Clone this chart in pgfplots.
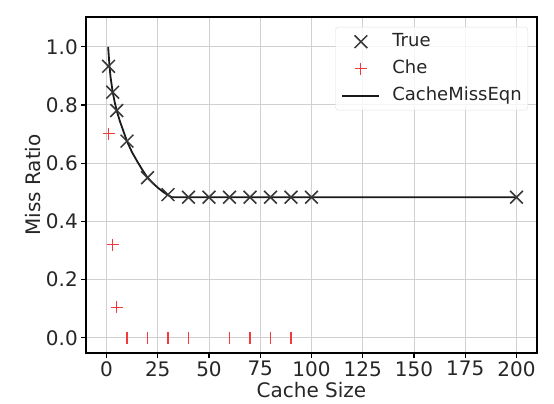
\documentclass[border=0pt]{standalone}
\usepackage{fontspec}
\setmainfont{DejaVu Sans}
\usepackage{pgfplots}
\pgfplotsset{compat=1.18}
\definecolor{gridgray}{HTML}{D0D0D0}
\definecolor{txt}{HTML}{262626}
\definecolor{mk}{HTML}{363636}
\definecolor{chered}{HTML}{F23A3A}
\pgfplotsset{
    marklegend/.style={legend image code/.code={
        \path[draw=none, fill=none] (0pt,-6pt) rectangle (37pt,6pt);
        \draw[##1] plot coordinates {(18.5pt,0pt)};}},
    linelegend/.style={legend image code/.code={
        \path[draw=none, fill=none] (0pt,-6pt) rectangle (37pt,6pt);
        \draw[##1, line width=1.8pt] (0pt,0pt) -- (37pt,0pt);}},
}

\begin{document}
\begin{tikzpicture}
\useasboundingbox (-86pt,-51pt) rectangle (468pt,353pt);
\begin{axis}[
    scale only axis,
    width=451pt, height=336pt,
    xmin=-10, xmax=210,
    ymin=-0.0525, ymax=1.1025,
    xtick={0,25,...,200},
    ytick={0,0.2,0.4,0.6,0.8,1.0},
    yticklabel style={/pgf/number format/.cd,fixed,fixed zerofill,precision=1},
    /pgf/number format/assume math mode=true,
    tick label style={font=\fontsize{20}{24}\selectfont, text=txt, inner sep=3.5pt},
    xlabel={Cache Size},
    ylabel={Miss Ratio},
    xlabel style={font=\fontsize{20}{24}\selectfont, text=txt,
        at={(axis description cs:0.5,-0.1339)}, anchor=base},
    ylabel style={font=\fontsize{20}{24}\selectfont, text=txt,
        at={(axis description cs:-0.0998,0.5)}, anchor=base},
    tick align=outside,
    xtick pos=bottom, ytick pos=left,
    major tick length=4.5pt,
    every tick/.style={black, line width=1.2pt},
    axis line style={black, line width=1.2pt},
    grid=major,
    major grid style={gridgray, line width=1pt},
    legend cell align=left,
    legend style={at={(1,1)}, anchor=north east, xshift=-9pt, yshift=-10pt,
        draw=gray!25, rounded corners=3pt, fill=white, fill opacity=0.8, text opacity=1,
        font=\fontsize{18}{22}\selectfont, text=txt, inner xsep=6pt, inner ysep=6pt,
        nodes={inner sep=0pt, text height=13pt, text depth=4pt},
        column sep=12pt, row sep=10pt},
]
\addplot[only marks, mark=x, mark size=9pt, mk, line width=1.5pt, marklegend]
coordinates {
    (1,0.933) (3,0.844) (5,0.781) (10,0.676) (20,0.550) (30,0.492)
    (40,0.483) (50,0.483) (60,0.483) (70,0.483) (80,0.483) (90,0.483)
    (100,0.483) (200,0.483)
};
\addlegendentry{True}
\addplot[only marks, mark=+, mark size=6pt, chered, line width=1.1pt, marklegend]
coordinates {
    (1,0.702) (3,0.320) (5,0.105)
};
\addlegendentry{Che}
\addplot[only marks, mark=|, mark size=6pt, chered, line width=1.1pt, forget plot]
coordinates {
    (10,0) (20,0) (30,0) (40,0) (60,0) (70,0) (80,0) (90,0)
};
\addplot[no marks, black!90, line width=1.8pt, linelegend]
coordinates {
    (0.8,1.0) (1.5,0.93) (2,0.895) (3,0.845) (4,0.81) (5,0.78) (6.5,0.745)
    (8,0.715) (10,0.675) (12.5,0.637) (15,0.606) (17.5,0.577) (20,0.550)
    (22.5,0.532) (25,0.516) (27.5,0.502) (30,0.490) (32,0.483) (200,0.483)
};
\addlegendentry{CacheMissEqn}
\end{axis}
\end{tikzpicture}
\end{document}
